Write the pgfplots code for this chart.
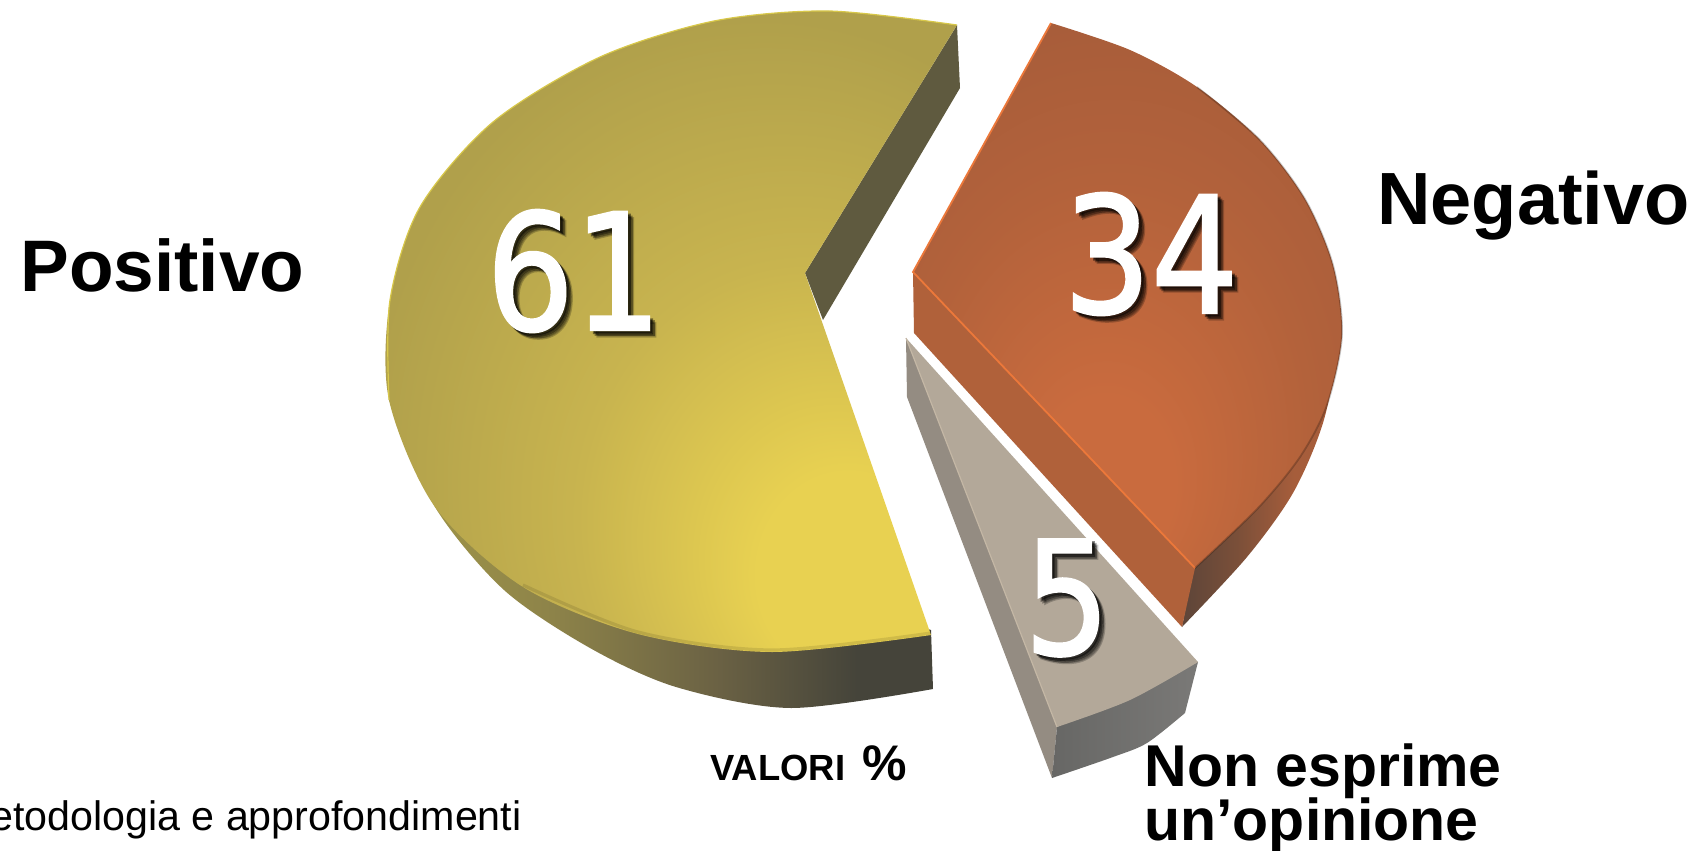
\documentclass[border=0pt]{standalone}
\usepackage{pgfplots}
\pgfplotsset{compat=1.18}
\usepackage{fontspec}
\setmainfont{Liberation Sans}
\newfontfamily\numf[RawFeature={extend=0.85;embolden=1.4}]{DejaVu Sans}
\definecolor{yA}{HTML}{E8D151}\definecolor{yB}{HTML}{C8B44F}\definecolor{yC}{HTML}{B0A04B}\definecolor{yD}{HTML}{AE9D4A}
\definecolor{oA}{HTML}{C96B3E}\definecolor{oB}{HTML}{B3623B}\definecolor{oC}{HTML}{A85D3A}\definecolor{oD}{HTML}{A55C3A}
\definecolor{wA}{HTML}{A39848}\definecolor{wB}{HTML}{8D8349}\definecolor{wC}{HTML}{6B6244}\definecolor{wD}{HTML}{45443A}
\definecolor{owA}{HTML}{5D4539}\definecolor{owB}{HTML}{7A4F39}\definecolor{owC}{HTML}{A65D3B}
\definecolor{ycut}{HTML}{5F5A3F}\definecolor{yrim}{HTML}{D8C84A}\definecolor{ofront}{HTML}{B0613A}\definecolor{ohi}{HTML}{EC783A}
\definecolor{gleft}{HTML}{948C82}\definecolor{gtop}{HTML}{B3A899}\definecolor{gfA}{HTML}{676765}\definecolor{gfB}{HTML}{7A7977}\definecolor{ghi}{HTML}{C4B7A5}
\pgfdeclareradialshading{yface}{\pgfpoint{18bp}{-22bp}}{color(0bp)=(yA);color(8bp)=(yA);color(20bp)=(yB);color(34bp)=(yC);color(60bp)=(yD)}
\pgfdeclareradialshading{oface}{\pgfpoint{-3bp}{-20bp}}{color(0bp)=(oA);color(8bp)=(oA);color(23bp)=(oB);color(34bp)=(oC);color(60bp)=(oD)}
\pgfdeclarehorizontalshading{ywall}{100bp}{color(0bp)=(wA);color(25bp)=(wA);color(40bp)=(wB);color(55bp)=(wC);color(68bp)=(wD);color(100bp)=(wD)}
\pgfdeclarehorizontalshading{owall}{100bp}{color(0bp)=(owA);color(25bp)=(owA);color(42bp)=(owB);color(60bp)=(owC);color(100bp)=(owC)}
\newcommand{\bignum}[4]{%
  \node[font=\numf\fontsize{#3}{#3}\selectfont,text=black,text opacity=.22,xshift=3.2pt,yshift=-3.2pt] at (axis cs:#1,#2) {#4};
  \node[font=\numf\fontsize{#3}{#3}\selectfont,text=black,text opacity=.35,xshift=2.4pt,yshift=-2.4pt] at (axis cs:#1,#2) {#4};
  \node[font=\numf\fontsize{#3}{#3}\selectfont,text=black,text opacity=.45,xshift=1.5pt,yshift=-1.5pt] at (axis cs:#1,#2) {#4};
  \node[font=\numf\fontsize{#3}{#3}\selectfont,text=white] at (axis cs:#1,#2) {#4};}
\begin{document}
\begin{tikzpicture}
\clip (0,0) rectangle (849pt,425.5pt);
\begin{axis}[hide axis,scale only axis,width=849pt,height=425.5pt,
  xmin=0,xmax=1698,ymin=0,ymax=851,y dir=reverse,clip=false]
% yellow outer wall
\addplot[draw=none,shade,shading=ywall,smooth] coordinates {
 (389,400)(435,507)(504,590)(590,648)(676,687)(791,708)(933,689)} -- (axis cs:931,630) -- (axis cs:500,500) -- cycle;
% yellow cut wall
\addplot[draw=none,fill=ycut] coordinates {
 (957,25)(960,88)(823,320)(805,273)} --cycle;
% yellow top face
\addplot[draw=none,shade,shading=yface,smooth] coordinates {
 (957,25)(829,11)(714,21)(600,57)(493,122)(420,207)(390,300)(389,400)(435,507)(523,587)(638,634)(772,652)(931,635)} -- (axis cs:805,273) -- cycle;
% soft edge between yellow face and wall
\addplot[smooth,color=black,opacity=.10,line width=1.6pt] coordinates {(523,585)(638,632)(772,650)(931,633)};
% yellow rim
\addplot[smooth,color=yrim,line width=.6pt] coordinates {
 (957,25)(829,11)(714,21)(600,57)(493,122)(420,207)(390,300)(389,400)};
% orange outer wall
\addplot[draw=none,shade,shading=owall,smooth] coordinates {
 (1342,335)(1323,423)(1293,493)(1247,557)(1182,627)} -- (axis cs:1195,560) -- (axis cs:1280,400) -- cycle;
% orange front wall
\addplot[draw=none,fill=ofront] coordinates {
 (913,272)(1195,568)(1182,627)(914,333)} --cycle;
% orange top face
\addplot[draw=none,shade,shading=oface,smooth] coordinates {
 (1051,23)(1130,50)(1197,87)(1260,140)(1305,199)(1333,265)(1342,335)(1327,405)(1300,457)(1258,508)(1195,568)} -- (axis cs:913,272) -- cycle;
% orange edges
\addplot[color=ohi,line width=.9pt] coordinates {(1051,23)(913,272)(1195,568)};
\addplot[smooth,color=black,opacity=.22,line width=.9pt] coordinates {(1197,87)(1260,140)(1305,199)(1333,265)(1342,335)(1327,405)(1300,457)(1258,508)(1195,568)};
% grey left wall
\addplot[draw=none,fill=gleft] coordinates {
 (906,338)(907,397)(1052,778)(1057,727)} --cycle;
% grey front wall
\addplot[draw=none,left color=gfA,right color=gfB,smooth] coordinates {
 (1052,778)(1113,757)(1147,743)(1185,713)} -- (axis cs:1198,662) -- (axis cs:1057,727) -- cycle;
% grey top face
\addplot[draw=none,fill=gtop,smooth] coordinates {
 (1198,662)(1130,700)(1057,727)} -- (axis cs:906,338) -- cycle;
\addplot[color=ghi,line width=.6pt] coordinates {(906,338)(1057,727)};
\bignum{574}{271}{81}{61}
\bignum{1151}{254}{81}{34}
\bignum{1067}{598}{79}{5}
\tikzset{lab/.style={anchor=base west,inner sep=0pt}}
\node[lab,font=\bfseries\fontsize{36.5}{40}\selectfont] at (axis cs:20,291) {Positivo};
\node[lab,font=\bfseries\fontsize{37}{40}\selectfont] at (axis cs:1377,224) {Negativo};
\node[lab,font=\bfseries\fontsize{29.5}{34}\selectfont] at (axis cs:1144,786) {Non esprime};
\node[lab,font=\bfseries\fontsize{29.5}{34}\selectfont] at (axis cs:1144,840) {un’opinione};
\node[lab,font=\bfseries\fontsize{18.2}{20}\selectfont] at (axis cs:710,780) {VALORI};
\node[lab,font=\fontsize{25}{26}\selectfont\bfseries] at (axis cs:862,780) {\%};
\node[anchor=base east,inner sep=0pt,font=\fontsize{20.6}{22}\selectfont] at (axis cs:522,830) {metodologia e approfondimenti};
\end{axis}
\end{tikzpicture}
\end{document}
